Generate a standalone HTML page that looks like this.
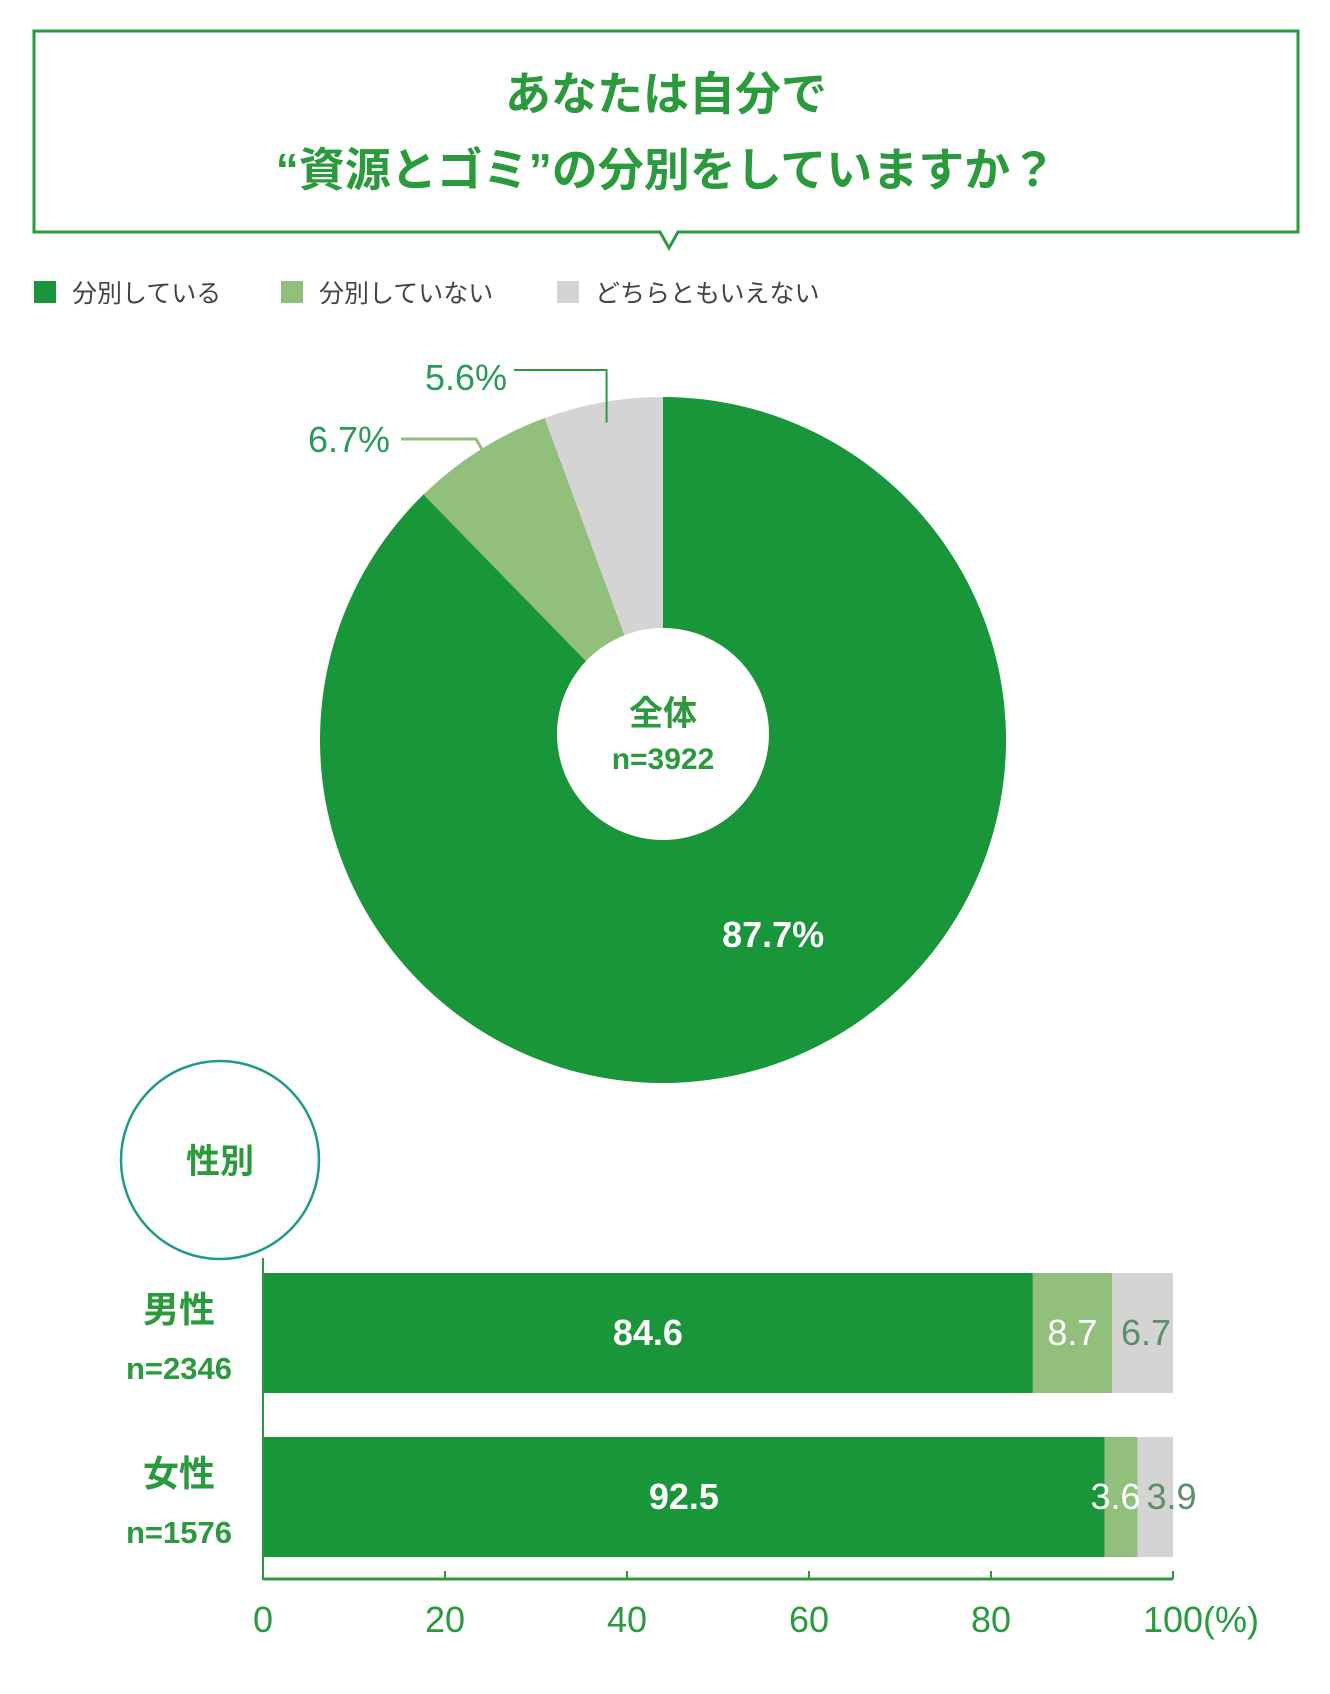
<!DOCTYPE html>
<html><head><meta charset="utf-8"><style>
body{margin:0;background:#fff;}
svg{display:block}
text{font-family:"Liberation Sans","Noto Sans CJK JP",sans-serif;}
</style></head><body>
<svg id="chart" width="1330" height="1694" viewBox="0 0 1330 1694">
<g>
<path d="M34,31 H1298 V232 H678 L669,248 L660,232 H34 Z" fill="#fff" stroke="#2a9a3c" stroke-width="3"/>
<text x="666" y="110" text-anchor="middle" font-size="46" font-weight="bold" fill="#2a9a3c">あなたは自分で</text>
<text x="666" y="186" text-anchor="middle" font-size="46" font-weight="bold" fill="#2a9a3c">“資源とゴミ”の分別をしていますか？</text>
</g>
<g font-size="25" fill="#444">
<rect x="34" y="281" width="22" height="22" fill="#1a963a"/>
<text x="72" y="302">分別している</text>
<rect x="281" y="281" width="22" height="22" fill="#93bf7d"/>
<text x="319" y="302">分別していない</text>
<rect x="557" y="281" width="22" height="22" fill="#d4d4d4"/>
<text x="595" y="302">どちらともいえない</text>
</g>
<g id="pie"></g>
<g id="bars"></g>
</svg>
<script>
const pieCategories=["分別している","分別していない","どちらともいえない"];
const pieValues=[87.7,6.7,5.6];
const barCategories=["男性","女性"];
const barCounts=["n=2346","n=1576"];
const barSorting=[84.6,92.5];
const barNotSorting=[8.7,3.6];
const barNeither=[6.7,3.9];
const xTicks=[0,20,40,60,80,100];
const colors=["#1a963a","#93bf7d","#d4d4d4"];
const NS="http://www.w3.org/2000/svg";
function mk(tag,attrs,parent){const e=document.createElementNS(NS,tag);for(const k in attrs)e.setAttribute(k,attrs[k]);parent.appendChild(e);return e;}
// pie
const pie=document.getElementById('pie');
const cx=663,cy=740,R=343,r0=106;
const total=pieValues.reduce((a,b)=>a+b,0);
function pt(a,rad){return [cx+rad*Math.sin(a),cy-rad*Math.cos(a)];}
let acc=0;const mids=[];
pieValues.forEach((v,i)=>{
  const a0=acc/total*2*Math.PI;acc+=v;const a1=acc/total*2*Math.PI;
  const p0=pt(a0,R),p1=pt(a1,R);const large=(a1-a0)>Math.PI?1:0;
  const p=mk('path',{d:`M${cx},${cy} L${p0[0]},${p0[1]} A${R},${R} 0 ${large} 1 ${p1[0]},${p1[1]} Z`,fill:colors[i]},pie);
  
  
  mids.push((a0+a1)/2);
});
const hole=mk('circle',{cx:cx,cy:cy-6,r:r0,fill:'#fff'},pie);


const t1=mk('text',{x:cx,y:725,'text-anchor':'middle','font-size':34,'font-weight':'bold',fill:'#2a9a3c'},pie);t1.textContent='全体';


const t2=mk('text',{x:cx,y:769,'text-anchor':'middle','font-size':30,'font-weight':'bold',fill:'#2a9a3c'},pie);t2.textContent='n=3922';


// main label inside
const mp=pt(mids[0],R*0.62);
const l0=mk('text',{x:mp[0]+30,y:mp[1]+10,'text-anchor':'middle','font-size':36,'font-weight':'bold',fill:'#fff'},pie);l0.textContent=pieValues[0]+'%';


// leader labels
const e1=pt(mids[1],R*0.86);
const ln1=mk('polyline',{points:`401,439 476,439 ${e1[0]},${e1[1]}`,fill:'none',stroke:'#93bf7d','stroke-width':3},pie);


const l1=mk('text',{x:390,y:452,'text-anchor':'end','font-size':36,fill:'#2a9a5a'},pie);l1.textContent=pieValues[1]+'%';


const e2=pt(mids[2],R*0.94);
const ln2=mk('polyline',{points:`514,370 ${e2[0]},370 ${e2[0]},${e2[1]}`,fill:'none',stroke:'#2a9a3c','stroke-width':2},pie);


const l2=mk('text',{x:507,y:390,'text-anchor':'end','font-size':36,fill:'#2a9a5a'},pie);l2.textContent=pieValues[2]+'%';


// bars
const bars=document.getElementById('bars');
const circ=mk('circle',{cx:220,cy:1160,r:99,fill:'#fff',stroke:'#1e9a8a','stroke-width':2.5},bars);


const ct=mk('text',{x:220,y:1173,'text-anchor':'middle','font-size':34,'font-weight':'bold',fill:'#2a9a3c'},bars);ct.textContent='性別';


const x0=263,x1=1173;
function X(v){return x0+(x1-x0)*v/100;}
const rowY=[1273,1437],bh=120;
barCategories.forEach((c,i)=>{
  const y=rowY[i];
  const segs=[barSorting[i],barNotSorting[i],barNeither[i]];
  let s=0;
  segs.forEach((v,j)=>{
    const r=mk('rect',{x:X(s),y:y,width:X(s+v)-X(s),height:bh,fill:colors[j]},bars);
    
    
    s+=v;
  });
  const lt=mk('text',{x:X(segs[0]/2),y:y+72,'text-anchor':'middle','font-size':36,'font-weight':'bold',fill:'#fff'},bars);lt.textContent=segs[0];
  
  
  const nsx=X(segs[0]+segs[1]/2), nex=X(segs[0]+segs[1]+segs[2]/2);
  const lt2=mk('text',{x:Math.min(nsx,X(segs[0]+segs[1])-22),y:y+72,'text-anchor':'middle','font-size':36,fill:'#fff'},bars);lt2.textContent=segs[1];
  
  
  const lt3=mk('text',{x:Math.max(nex,X(segs[0]+segs[1])+34),y:y+72,'text-anchor':'middle','font-size':36,fill:'#5b8f6a'},bars);lt3.textContent=segs[2];
  
  
  const cl=mk('text',{x:179,y:y+49,'text-anchor':'middle','font-size':36,'font-weight':'bold',fill:'#2a9a3c'},bars);cl.textContent=c;
  
  
  const cn=mk('text',{x:179,y:y+106,'text-anchor':'middle','font-size':31,'font-weight':'bold',fill:'#2a9a3c'},bars);cn.textContent=barCounts[i];
  
  
});
const ya=mk('line',{x1:x0,y1:1258,x2:x0,y2:1580,stroke:'#2a9a3c','stroke-width':2},bars);


const xa=mk('line',{x1:x0,y1:1579,x2:x1,y2:1579,stroke:'#2a9a3c','stroke-width':3},bars);


xTicks.forEach(t=>{
  const tk=mk('line',{x1:X(t),y1:1571,x2:X(t),y2:1579,stroke:'#2a9a3c','stroke-width':2},bars);
  
  
  const tl=mk('text',{x:X(t),y:1632,'text-anchor':'middle','font-size':36,fill:'#2a9a3c'},bars);tl.textContent=t;
  
  
});
const unit=mk('text',{x:X(100)+30,y:1632,'font-size':36,fill:'#2a9a3c'},bars);unit.textContent='(%)';


</script>
</body></html>
